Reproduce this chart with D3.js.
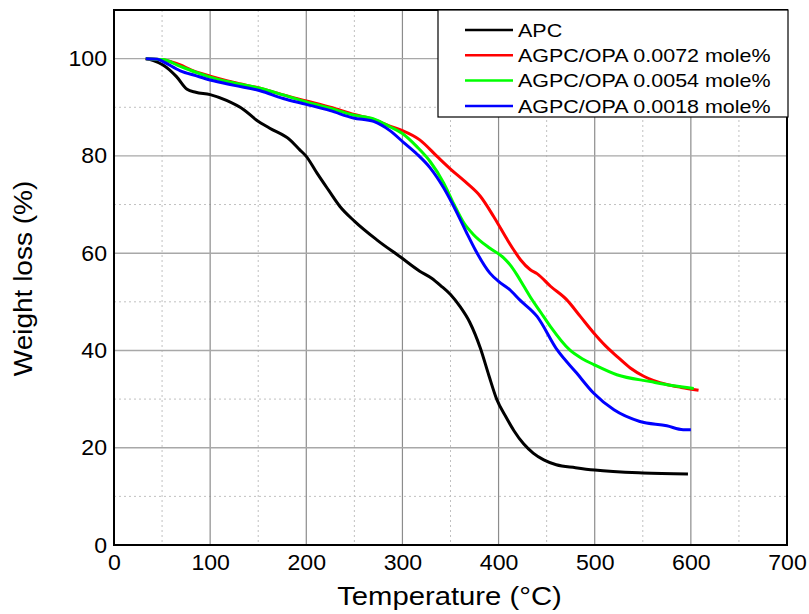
<!DOCTYPE html>
<html><head><meta charset="utf-8">
<script src="https://cdn.jsdelivr.net/npm/d3@7"></script>
<style>body{margin:0;background:#fff}svg{display:block}text{font-family:"Liberation Sans",Arial,sans-serif;fill:#000}</style>
</head><body><svg id="c" width="809" height="614"></svg>
<script>
const seriesNames = ["APC","AGPC/OPA 0.0072 mole%","AGPC/OPA 0.0054 mole%","AGPC/OPA 0.0018 mole%"];
const seriesColors = ["#000000","#ff0000","#00ff00","#0000ff"];
const xTicks = [0,100,200,300,400,500,600,700];
const yTicks = [0,20,40,60,80,100];
const apc = [[33,100],[41,99.6],[51,98.7],[65,96.3],[76,93.7],[85,93.1],[100,92.6],[117,91.4],[135,89.5],[148,87.4],[162,85.7],[183,83.3],[193,81.3],[200,79.9],[211,76.5],[223,73],[235,69.6],[250,66.6],[273,62.8],[298,59.2],[318,56.3],[330,54.9],[340,53.3],[350,51.5],[360,49],[370,45.8],[381,40.5],[390,34.8],[398,30],[408,26.2],[416,23.5],[426,20.8],[436,18.9],[447,17.5],[460,16.5],[480,15.9],[500,15.4],[550,14.8],[597,14.6]];
const agpc72 = [[33,100],[50,99.8],[60,99.3],[69,98.7],[80,97.7],[100,96.4],[125,95.1],[152,93.9],[175,92.6],[200,91.3],[225,90],[250,88.5],[270,87.5],[287,86.1],[300,85.2],[318,83.3],[336,79.9],[350,77.3],[367,74.4],[381,71.7],[395,67.5],[409,62.8],[416,60.6],[423,58.6],[433,56.6],[440,55.8],[454,53.2],[471,50.4],[485,47],[499,43.6],[511,41],[523,38.8],[537,36.4],[551,34.7],[575,33],[590,32.4],[608,31.8]];
const agpc54 = [[33,100],[51,99.8],[69,98.4],[85,97.2],[100,96.2],[125,95],[152,93.9],[175,92.6],[200,91.1],[225,89.8],[249,88.4],[270,87.6],[287,86],[300,84.6],[315,81.9],[329,78.8],[343,74.4],[353,70.3],[364,66.2],[374,63.8],[391,61],[405,59.1],[412,57.6],[419,55.6],[426,53.3],[433,51],[444,47.8],[454,44.9],[474,40.1],[487,38.3],[499,37.1],[523,35],[558,33.6],[580,32.8],[603,32.2]];
const agpc18 = [[33,100],[45,99.9],[51,99.4],[69,97.5],[85,96.5],[100,95.6],[125,94.5],[152,93.4],[176,91.8],[200,90.6],[225,89.3],[249,87.8],[270,87.1],[287,85.2],[301,82.8],[315,80.4],[329,77.5],[343,73.4],[357,68.2],[367,64.1],[376,60.6],[391,55.9],[400,54.2],[411,52.6],[422,50.4],[440,47],[461,40.1],[481,35.4],[499,31.2],[520,27.8],[547,25.4],[575,24.5],[592,23.7],[600,23.7]];
const allSeries = [apc, agpc72, agpc54, agpc18];

const svg = d3.select("#c");
const L=114, R=787, T=10, B=545;
const x = d3.scaleLinear().domain([0,700]).range([L,R]);
const y = d3.scaleLinear().domain([0,110]).range([B,T]);

function stretch(sel, k){
  sel.each(function(){
    const w = this.getComputedTextLength();
    d3.select(this).attr("textLength", w*k).attr("lengthAdjust","spacingAndGlyphs");
  });
}

const g = svg.append("g");
const xMinor = d3.range(50,700,100), yMinor = d3.range(10,110,20);
g.selectAll(".xm").data(xMinor).enter().append("line")
 .attr("x1",d=>x(d)).attr("x2",d=>x(d)).attr("y1",T).attr("y2",B)
 .attr("stroke","#c0c0c0").attr("stroke-width",1).attr("stroke-dasharray","2,3");
g.selectAll(".ym").data(yMinor).enter().append("line")
 .attr("x1",L).attr("x2",R).attr("y1",d=>y(d)).attr("y2",d=>y(d))
 .attr("stroke","#c0c0c0").attr("stroke-width",1).attr("stroke-dasharray","2,3");
g.selectAll(".xg").data(xTicks.slice(1,-1)).enter().append("line")
 .attr("x1",d=>x(d)).attr("x2",d=>x(d)).attr("y1",T).attr("y2",B)
 .attr("stroke","#8c8c8c").attr("stroke-width",1.2);
g.selectAll(".yg").data(yTicks.slice(1)).enter().append("line")
 .attr("x1",L).attr("x2",R).attr("y1",d=>y(d)).attr("y2",d=>y(d))
 .attr("stroke","#a8a8a8").attr("stroke-width",1.4);

const line = d3.line().x(d=>x(d[0])).y(d=>y(d[1])).curve(d3.curveMonotoneX);
allSeries.forEach((s,i)=>{
  svg.append("path").datum(s).attr("d",line).attr("fill","none")
   .attr("stroke",seriesColors[i]).attr("stroke-width",3).attr("stroke-linejoin","round");
});

svg.append("rect").attr("x",L).attr("y",T).attr("width",R-L).attr("height",B-T)
 .attr("fill","none").attr("stroke","#000").attr("stroke-width",2);

const xAxis = d3.axisBottom(x).tickValues(xTicks).tickSize(0).tickPadding(9);
const yAxis = d3.axisLeft(y).tickValues(yTicks).tickSize(0).tickPadding(7);
const gx = svg.append("g").attr("transform",`translate(0,${B})`).call(xAxis);
const gy = svg.append("g").attr("transform",`translate(${L},0)`).call(yAxis);
[gx,gy].forEach(a=>{a.select(".domain").remove(); a.selectAll("text").style("font-size","22px").style("font-family","'Liberation Sans',Arial,sans-serif").attr("fill","#000"); stretch(a.selectAll("text"),1.05);});

const xt = svg.append("text").attr("x",(L+R)/2-1).attr("y",605).attr("text-anchor","middle")
 .style("font-size","25px").text("Temperature (\u00B0C)");
stretch(xt,1.17);
const yt = svg.append("text").attr("transform",`translate(32,${(T+B)/2+1}) rotate(-90)`).attr("text-anchor","middle")
 .style("font-size","25px").text("Weight loss (%)");
stretch(yt,1.12);

const lg = svg.append("g");
lg.append("rect").attr("x",438).attr("y",10).attr("width",350).attr("height",107)
 .attr("fill","#fff").attr("stroke","#000").attr("stroke-width",1.2);
seriesNames.forEach((n,i)=>{
  const yy = 30 + i*25.3;
  lg.append("line").attr("x1",465).attr("x2",513).attr("y1",yy).attr("y2",yy)
   .attr("stroke",seriesColors[i]).attr("stroke-width",2.5);
  const t = lg.append("text").attr("x",518).attr("y",yy).attr("dy","0.35em").style("font-size","19px").text(n);
  stretch(t,1.13);
});
</script></body></html>
